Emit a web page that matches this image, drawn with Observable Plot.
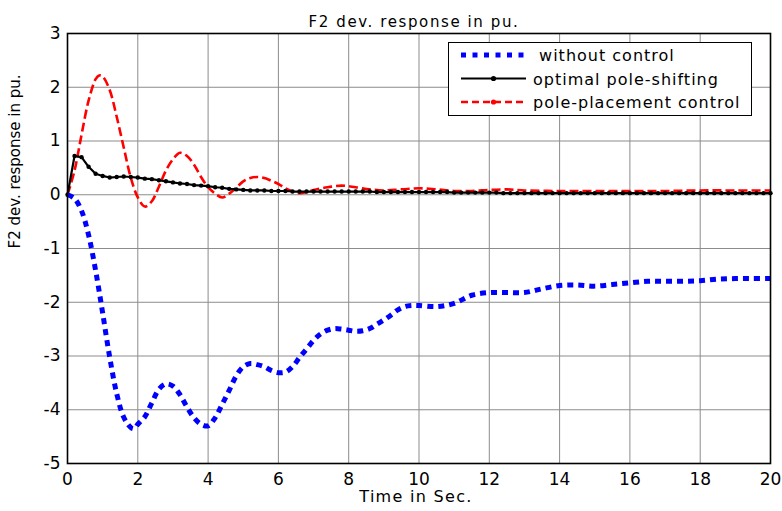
<!DOCTYPE html>
<html>
<head>
<meta charset="utf-8">
<script src="https://cdn.jsdelivr.net/npm/d3@7"></script>
<script src="https://cdn.jsdelivr.net/npm/@observablehq/plot@0.6"></script>
<style>
  html, body { margin: 0; padding: 0; background: white; }
  #wrap { position: relative; width: 782px; height: 511px; overflow: hidden; }
  #legend { position: absolute; left: 448px; top: 42px; width: 304px; height: 74px;
            border: 1.3px solid black; background: white; box-sizing: border-box; }
</style>
</head>
<body>
<div id="wrap"></div>
<script>
const titleText = "F2 dev. response in pu.";
const xLabel = "Time in Sec.";
const yLabel = "F2 dev. response in pu.";
const seriesNames = [" without control", "optimal pole-shifting", "pole-placement control"];
const seriesColors = ["#0000ff", "#000000", "#ff0000"];
const xTicks = [0, 2, 4, 6, 8, 10, 12, 14, 16, 18, 20];
const yTicks = [-5, -4, -3, -2, -1, 0, 1, 2, 3];

// without control
const blueT = [0,0.2,0.4,0.6,0.8,1,1.2,1.4,1.6,1.8,1.9,2,2.2,2.4,2.6,2.8,3,3.2,3.4,3.6,3.8,4,4.2,4.4,4.6,4.8,5,5.2,5.4,5.6,5.8,6,6.2,6.4,6.6,6.8,7,7.2,7.4,7.6,7.8,8,8.2,8.4,8.6,8.8,9,9.2,9.4,9.6,9.8,10,10.5,11,11.5,12,12.5,13,13.5,14,14.5,15,15.5,16,16.5,17,17.5,18,18.5,19,19.5,20];
const blueV = [0,-0.07,-0.3,-0.75,-1.41,-2.2,-3.02,-3.7,-4.14,-4.33,-4.35,-4.27,-4.13,-3.87,-3.62,-3.52,-3.56,-3.72,-3.95,-4.15,-4.27,-4.3,-4.15,-3.9,-3.64,-3.37,-3.2,-3.14,-3.16,-3.2,-3.27,-3.31,-3.3,-3.2,-3.03,-2.87,-2.71,-2.59,-2.52,-2.49,-2.5,-2.52,-2.54,-2.53,-2.49,-2.41,-2.33,-2.24,-2.14,-2.08,-2.06,-2.06,-2.08,-2.02,-1.87,-1.82,-1.82,-1.82,-1.75,-1.69,-1.68,-1.7,-1.67,-1.64,-1.61,-1.61,-1.61,-1.6,-1.57,-1.56,-1.56,-1.56];

// optimal pole-shifting
const blackT = [0,0.2,0.4,0.6,0.8,1,1.2,1.4,1.6,1.8,2,2.2,2.4,2.6,2.8,3,3.2,3.4,3.6,3.8,4,4.2,4.4,4.6,4.8,5,5.2,5.4,5.6,5.8,6,6.2,6.4,6.6,6.8,7,7.2,7.4,7.6,7.8,8,8.2,8.4,8.6,8.8,9,9.2,9.4,9.6,9.8,10,10.2,10.4,10.6,10.8,11,11.2,11.4,11.6,11.8,12,12.2,12.4,12.6,12.8,13,13.2,13.4,13.6,13.8,14,14.2,14.4,14.6,14.8,15,15.2,15.4,15.6,15.8,16,16.2,16.4,16.6,16.8,17,17.2,17.4,17.6,17.8,18,18.2,18.4,18.6,18.8,19,19.2,19.4,19.6,19.8,20];
const blackV = [0,0.72,0.7,0.52,0.39,0.35,0.32,0.33,0.34,0.33,0.32,0.3,0.29,0.27,0.25,0.23,0.21,0.2,0.18,0.17,0.16,0.14,0.13,0.11,0.1,0.09,0.08,0.08,0.08,0.07,0.07,
  0.07,0.06,0.06,0.06,0.06,0.06,0.06,0.06,0.06,0.06,
  0.06,0.06,0.06,0.05,0.05,0.05,0.05,0.05,0.05,0.05,
  0.05,0.05,0.05,0.05,0.04,0.04,0.04,0.04,0.04,0.04,
  0.04,0.03,0.03,0.03,0.03,0.03,0.03,0.03,0.03,0.03,
  0.03,0.03,0.03,0.03,0.03,0.03,0.03,0.03,0.03,0.03,
  0.03,0.03,0.03,0.03,0.03,0.03,0.03,0.03,0.03,0.03,
  0.03,0.03,0.03,0.03,0.03,0.03,0.03,0.03,0.03,0.03];

// pole-placement control
const redT = [0,0.2,0.4,0.6,0.8,0.9,1,1.2,1.4,1.6,1.8,2,2.2,2.4,2.6,2.8,3,3.2,3.4,3.6,3.8,4,4.2,4.4,4.6,4.8,5,5.2,5.4,5.6,5.8,6,6.2,6.4,6.6,6.8,7,7.4,7.8,8.2,8.6,9,9.5,10,10.5,11,11.5,12,12.5,13,14,15,16,17,18,19,20];
const redV = [0,0.45,1.12,1.75,2.15,2.22,2.2,1.95,1.45,0.88,0.32,-0.05,-0.22,-0.12,0.15,0.45,0.66,0.78,0.72,0.56,0.33,0.14,0.02,-0.05,0.02,0.13,0.25,0.31,0.33,0.31,0.26,0.2,0.12,0.06,0.03,0.05,0.09,0.14,0.17,0.14,0.1,0.08,0.1,0.12,0.1,0.07,0.07,0.09,0.1,0.08,0.07,0.07,0.07,0.07,0.08,0.08,0.08];

const blue = blueT.map((t, i) => ({t, v: blueV[i]}));
const black = blackT.map((t, i) => ({t, v: blackV[i]}));
const red = redT.map((t, i) => ({t, v: redV[i]}));

const gridStyle = {stroke: "#8c8c8c", strokeOpacity: 1, strokeWidth: 1};

const chart = Plot.plot({
  width: 782,
  height: 511,
  marginLeft: 67,
  marginRight: 12,
  marginTop: 33,
  marginBottom: 48,
  x: {domain: [0, 20]},
  y: {domain: [-5, 3]},
  style: {fontFamily: "DejaVu Sans", fontSize: "17px", color: "black", background: "white"},
  marks: [
    Plot.gridX(xTicks, gridStyle),
    Plot.gridY(yTicks, gridStyle),
    Plot.axisX(xTicks, {tickSize: 0, tickPadding: 9, label: null, tickFormat: d => String(d)}),
    Plot.axisY(yTicks, {tickSize: 0, tickPadding: 7, label: null, tickFormat: d => String(d)}),
    Plot.line(red, {x: "t", y: "v", stroke: seriesColors[2], strokeWidth: 2.6, strokeDasharray: "9,4", strokeLinecap: "butt", curve: "catmull-rom"}),
    Plot.line(black, {x: "t", y: "v", stroke: seriesColors[1], strokeWidth: 2.2}),
    Plot.dot(black, {x: "t", y: "v", r: 2.2, fill: seriesColors[1], stroke: "none"}),
    Plot.line(blue, {x: "t", y: "v", stroke: seriesColors[0], strokeWidth: 5, strokeDasharray: "6,5", strokeLinecap: "butt", curve: "catmull-rom"}),
    Plot.frame({stroke: "black", strokeWidth: 1.6}),
    Plot.text([titleText], {frameAnchor: "top", dy: -17, dx: -5, fontSize: 15}),
    Plot.text([xLabel], {frameAnchor: "bottom", dy: 38.5, dx: -3, fontSize: 16}),
    Plot.text([yLabel], {frameAnchor: "left", rotate: -90, dx: -52, fontSize: 15})
  ]
});

const wrap = document.getElementById("wrap");
wrap.appendChild(chart);
const texts = d3.select(chart).selectAll("text");
// the title and the y label share a string; only the horizontal one (no rotate) gets spacing
texts.filter(function () {
  return this.textContent === titleText && !(this.getAttribute("transform") || "").includes("rotate");
}).attr("letter-spacing", "1.6px");
texts.filter(function () { return this.textContent === xLabel; }).attr("letter-spacing", "1.3px");

// legend
const legend = document.createElement("div");
legend.id = "legend";
wrap.appendChild(legend);
const ls = d3.select(legend).append("svg").attr("width", 302).attr("height", 72)
  .style("position", "absolute").style("left", "0").style("top", "0");
const rowY = [12, 35.5, 59];
const dashes = ["5,6.5", null, "7,4"];
const widths = [5, 2.2, 2.4];
seriesNames.forEach((name, i) => {
  const y = rowY[i];
  const ln = ls.append("line").attr("x1", 12).attr("x2", 77).attr("y1", y).attr("y2", y)
    .attr("stroke", seriesColors[i]).attr("stroke-width", widths[i]);
  if (dashes[i]) ln.attr("stroke-dasharray", dashes[i]);
  if (i > 0) ls.append("circle").attr("cx", 44.5).attr("cy", y).attr("r", 2.6).attr("fill", seriesColors[i]);
  ls.append("text").attr("x", 84).attr("y", y + 6)
    .attr("font-family", "DejaVu Sans").attr("font-size", 16).attr("letter-spacing", "1px")
    .style("white-space", "pre").text(name);
});
</script>
</body>
</html>
